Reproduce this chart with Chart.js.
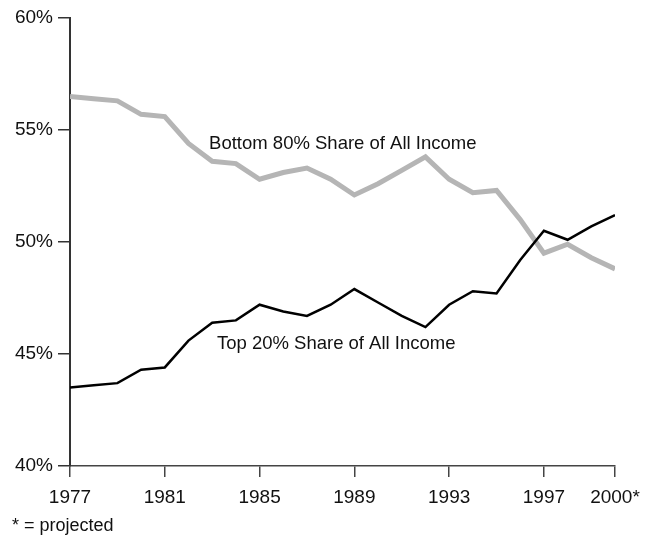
<!DOCTYPE html>
<html>
<head>
<meta charset="utf-8">
<script src="https://cdn.jsdelivr.net/npm/chart.js@4.4.1/dist/chart.umd.min.js"></script>
<style>
  body { margin: 0; background: #fff; }
  #wrap { position: relative; width: 655px; height: 537px; }
  #nota { position: absolute; left: 12px; top: 515px; font: 18px "Liberation Sans", Arial, sans-serif; color: #111; }
</style>
</head>
<body>
<div id="wrap">
  <canvas id="grafico" width="655" height="537"></canvas>
  <div id="nota">* = projected</div>
</div>
<script>
// anni e quote di reddito (in %)
const anni = [1977, 1978, 1979, 1980, 1981, 1982, 1983, 1984, 1985, 1986, 1987, 1988,
  1989, 1990, 1991, 1992, 1993, 1994, 1995, 1996, 1997, 1998, 1999, 2000];
const bottom80 = [56.5, 56.4, 56.3, 55.7, 55.6, 54.4, 53.6, 53.5, 52.8, 53.1, 53.3, 52.8,
  52.1, 52.6, 53.2, 53.8, 52.8, 52.2, 52.3, 51.0, 49.5, 49.9, 49.3, 48.8];
const top20 = [43.5, 43.6, 43.7, 44.3, 44.4, 45.6, 46.4, 46.5, 47.2, 46.9, 46.7, 47.2,
  47.9, 47.3, 46.7, 46.2, 47.2, 47.8, 47.7, 49.2, 50.5, 50.1, 50.7, 51.2];
// etichette dell'asse x
const anniTick = [1977, 1981, 1985, 1989, 1993, 1997, 2000];

const font = "Liberation Sans, Arial, sans-serif";

// scritte dentro il grafico, posizionate con le scale
const etichette = {
  id: "etichette",
  afterDatasetsDraw(chart) {
    const ctx = chart.ctx;
    const x = chart.scales.x;
    const y = chart.scales.y;
    ctx.save();
    ctx.fillStyle = "#111";
    ctx.font = "18.5px " + font;
    ctx.textBaseline = "middle";
    ctx.fillText("Bottom 80% Share of All Income", x.getPixelForValue(1982.87), y.getPixelForValue(54.38));
    ctx.fillText("Top 20% Share of All Income", x.getPixelForValue(1983.2), y.getPixelForValue(45.45));
    ctx.restore();
  },
};

const ctx = document.getElementById("grafico").getContext("2d");
new Chart(ctx, {
  type: "line",
  data: {
    datasets: [
      {
        label: "Top 20%",
        data: anni.map((a, i) => ({ x: a, y: top20[i] })),
        borderColor: "#000",
        borderWidth: 2.5,
      },
      {
        label: "Bottom 80%",
        data: anni.map((a, i) => ({ x: a, y: bottom80[i] })),
        borderColor: "#b5b5b5",
        borderWidth: 5,
      },
    ],
  },
  options: {
    responsive: false,
    animation: false,
    layout: { padding: { top: 18, right: 40, left: 0, bottom: 0 } },
    elements: { point: { radius: 0 }, line: { tension: 0 } },
    plugins: { legend: { display: false }, tooltip: { enabled: false } },
    scales: {
      x: {
        type: "linear",
        min: 1977,
        max: 2000,
        afterBuildTicks: (s) => { s.ticks = anniTick.map((v) => ({ value: v })); },
        afterFit: (s) => { s.height = 71; },
        ticks: {
          color: "#111",
          font: { family: font, size: 19 },
          padding: 9,
          maxRotation: 0,
          autoSkip: false,
          callback: (v) => (v === 2000 ? "2000*" : String(v)),
        },
        grid: { drawOnChartArea: false, tickLength: 11, color: "#444", lineWidth: 1.5 },
        border: { color: "#444", width: 1.5 },
      },
      y: {
        min: 40,
        max: 60,
        afterFit: (s) => { s.width = 70; },
        ticks: {
          stepSize: 5,
          color: "#111",
          font: { family: font, size: 19 },
          padding: 5,
          callback: (v) => v + "%",
        },
        grid: { drawOnChartArea: false, tickLength: 12, color: "#333", lineWidth: 1.5 },
        border: { color: "#333", width: 2 },
      },
    },
  },
  plugins: [etichette],
});
</script>
</body>
</html>
